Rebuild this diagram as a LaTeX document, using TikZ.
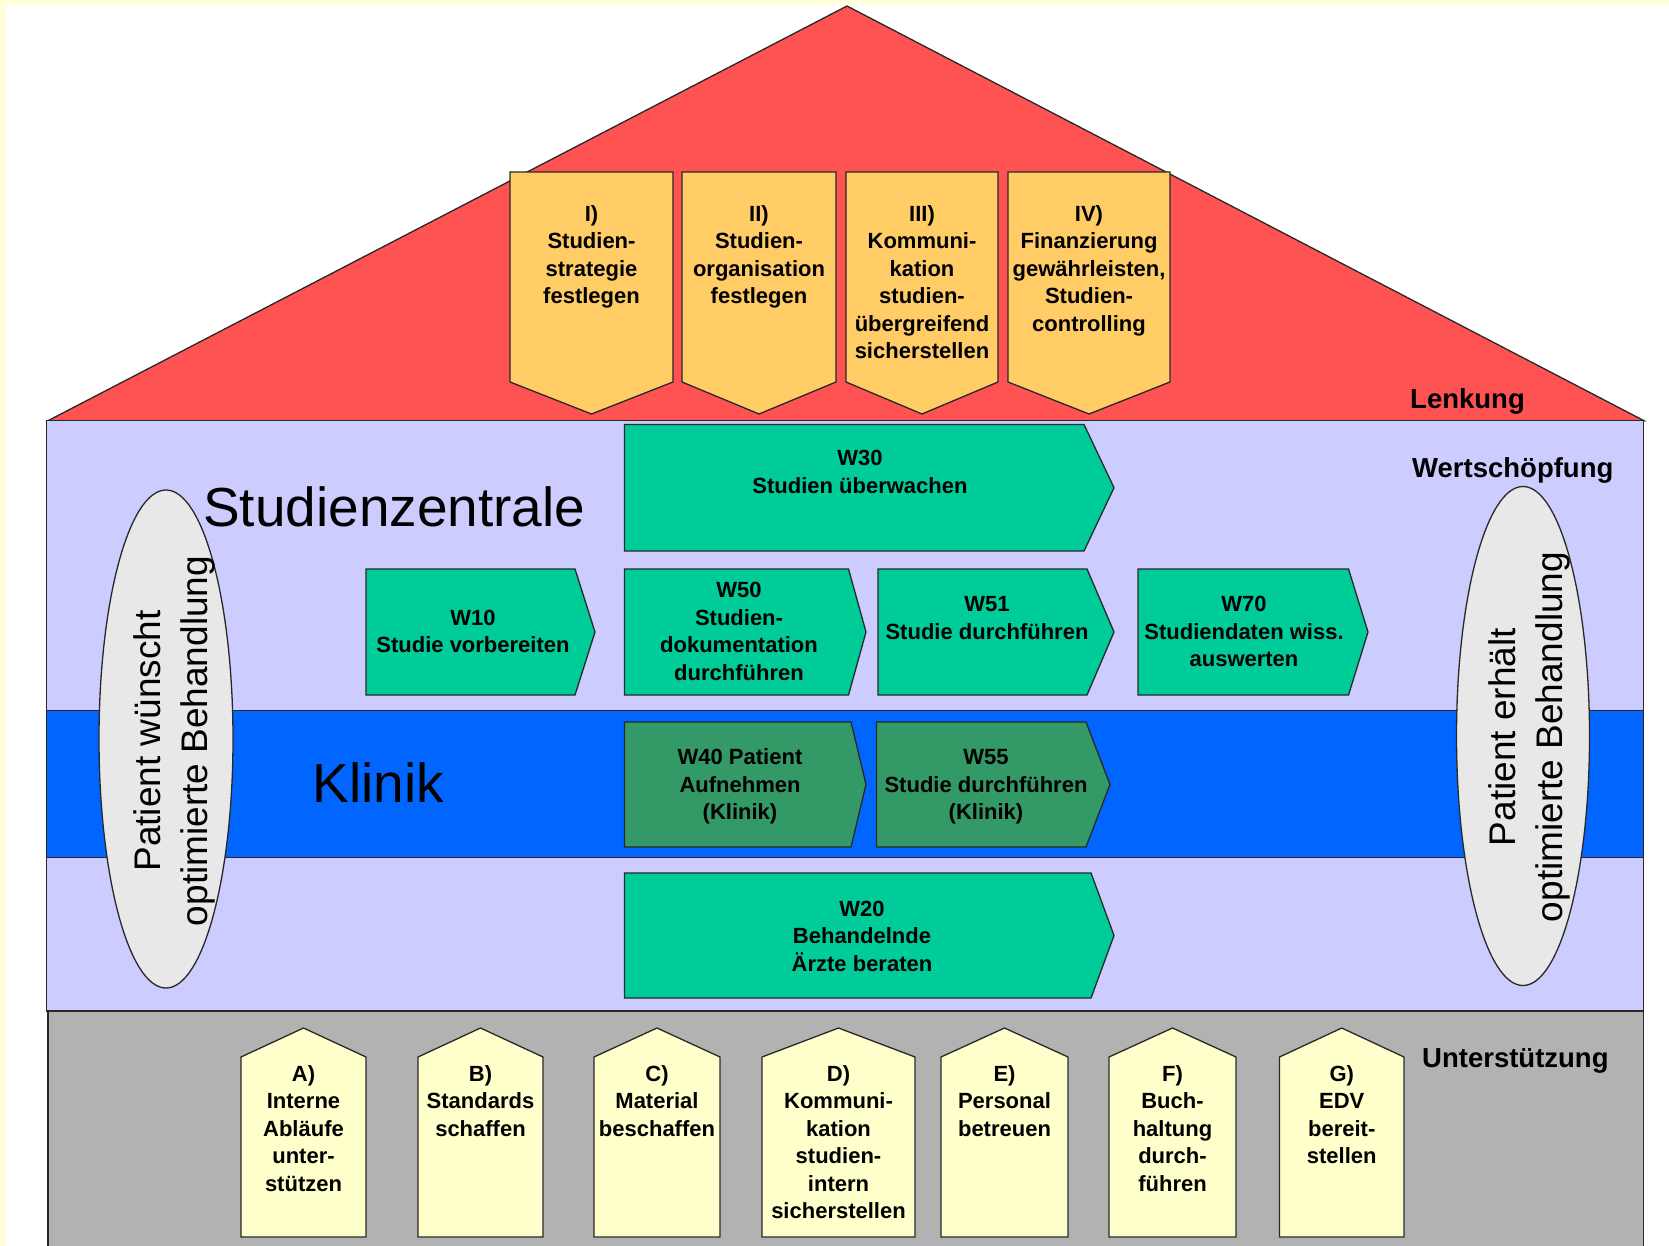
\documentclass[tikz,border=0pt]{standalone}
\usepackage{fontspec}
\setmainfont{Liberation Sans}
\definecolor{roofred}{RGB}{255,82,82}
\definecolor{topbox}{RGB}{255,204,102}
\definecolor{lav}{RGB}{204,204,255}
\definecolor{bandblue}{RGB}{0,102,255}
\definecolor{wgreen}{RGB}{0,204,153}
\definecolor{kgreen}{RGB}{51,153,102}
\definecolor{ellgrey}{RGB}{232,232,232}
\definecolor{basegrey}{RGB}{178,178,178}
\definecolor{botbox}{RGB}{255,255,204}
\definecolor{bgyellow}{RGB}{255,255,220}
\definecolor{edgecol}{RGB}{40,40,40}
\newcommand\hsBoxFont{\fontsize{22}{27.5}\selectfont\bfseries}
\newcommand\hsLabFont{\fontsize{27.5}{32}\selectfont\bfseries}
\newcommand\hsBigFont{\fontsize{55}{60}\selectfont}
\newcommand\hsEllFont{\fontsize{37}{47}\selectfont}
\tikzset{
  boxline/.style={draw=edgecol, line width=1.3pt, line join=miter},
  boxtext/.style={align=center, inner sep=0pt, font=\hsBoxFont, anchor=north},
  lab/.style={anchor=base west, inner sep=0pt, font=\hsLabFont},
  biglab/.style={anchor=base west, inner sep=0pt, font=\hsBigFont},
  elltext/.style={rotate=90, align=center, inner sep=0pt, font=\hsEllFont}
}
% down-pointing roof box: xl, xr
\newcommand\hsDownBox[2]{\draw[boxline,fill=topbox] (#1,172) -- (#2,172) -- (#2,382) -- ({(#1+#2)/2},414) -- (#1,382) -- cycle;}
% up-pointing support box: xl, xr
\newcommand\hsUpBox[2]{\draw[boxline,fill=botbox] (#1,1237) -- (#1,1057) -- ({(#1+#2)/2},1028) -- (#2,1057) -- (#2,1237) -- cycle;}
% value chain arrow: colour, xl, xr, tip, top, bottom
\newcommand\hsWBox[6]{\draw[boxline,fill=#1] (#2,#5) -- (#3,#5) -- (#4,{(#5+#6)/2}) -- (#3,#6) -- (#2,#6) -- cycle;}
\begin{document}
\begin{tikzpicture}[x=1pt,y=-1pt]
\useasboundingbox (0,0) rectangle (1669,1246);
\fill[bgyellow] (0,0) rectangle (1669,1246);
\fill[white] (6,5) rectangle (1669,1246);
% roof
\draw[boxline,fill=roofred] (48,420.7) -- (847,6) -- (1644,420.7) -- cycle;
\hsDownBox{510}{673}
\hsDownBox{682}{836}
\hsDownBox{846}{998}
\hsDownBox{1008}{1170}
\node[boxtext] (tI) at (591.5,201.6) {\strut I)\\Studien-\\strategie\\festlegen};
\node[boxtext] (tII) at (759,201.6) {\strut II)\\Studien-\\organisation\\festlegen};
\node[boxtext] (tIII) at (922,201.6) {\strut III)\\Kommuni-\\kation\\studien-\\übergreifend\\sicherstellen};
\node[boxtext] (tIV) at (1089,201.6) {\strut IV)\\Finanzierung\\gewährleisten,\\Studien-\\controlling};
% body
\draw[boxline,fill=lav] (46.7,420.7) rectangle (1643.5,1011);
\draw[boxline,fill=bandblue] (46.7,710.4) rectangle (1643.5,857.5);
\fill[basegrey] (48,1011) rectangle (1643.5,1246);
\draw[boxline] (48,1246) -- (48,1011) -- (1643.5,1011) -- (1643.5,1246);
% value chain
\hsWBox{wgreen}{624.5}{1084}{1114}{424.5}{551}
\hsWBox{wgreen}{366}{575}{595}{569}{695}
\hsWBox{wgreen}{624.5}{848.5}{866}{569}{695}
\hsWBox{wgreen}{878}{1087}{1114}{569}{695}
\hsWBox{wgreen}{1138}{1348.5}{1368}{569}{695}
\hsWBox{kgreen}{624.5}{851}{866}{722}{847}
\hsWBox{kgreen}{876.5}{1086}{1110}{722}{847}
\hsWBox{wgreen}{624.5}{1091}{1114}{873}{998}
\node[boxtext] (w30) at (860,446.4) {\strut W30\\Studien überwachen};
\node[boxtext] (w10) at (473,606) {\strut W10\\Studie vorbereiten};
\node[boxtext] (w50) at (739,578.4) {\strut W50\\Studien-\\dokumentation\\durchführen};
\node[boxtext] (w51) at (987,592.2) {\strut W51\\Studie durchführen};
\node[boxtext] (w70) at (1244,592.2) {\strut W70\\Studiendaten wiss.\\auswerten};
\node[boxtext] (w40) at (740,745.5) {\strut W40 Patient\\Aufnehmen\\(Klinik)};
\node[boxtext] (w55) at (986,745.5) {\strut W55\\Studie durchführen\\(Klinik)};
\node[boxtext] (w20) at (862,896.7) {\strut W20\\Behandelnde\\Ärzte beraten};
% ellipses
\draw[boxline,fill=ellgrey] (166,739) ellipse [x radius=67pt, y radius=249pt];
\draw[boxline,fill=ellgrey] (1523,736) ellipse [x radius=66.5pt, y radius=249.5pt];
\node[elltext] (eL) at (174,741) {Patient wünscht\\optimierte Behandlung};
\node[elltext] (eR) at (1529,737) {Patient erhält\\optimierte Behandlung};
% big labels
\node[biglab] (sz) at (203,526.5) {Studienzentrale};
\node[biglab] (kl) at (312.5,802) {Klinik};
\node[lab] (lenk) at (1410,408) {Lenkung};
\node[lab] (wert) at (1412,477) {Wertschöpfung};
\node[lab] (unt) at (1422,1067.7) {Unterstützung};
% support boxes
\hsUpBox{241}{366}
\hsUpBox{418}{543}
\hsUpBox{594}{720}
\hsUpBox{762}{915}
\hsUpBox{941}{1068}
\hsUpBox{1109}{1236}
\hsUpBox{1279.5}{1404}
\node[boxtext] (bA) at (303.5,1061.6) {\strut A)\\Interne\\Abläufe\\unter-\\stützen};
\node[boxtext] (bB) at (480.5,1061.6) {\strut B)\\Standards\\schaffen};
\node[boxtext] (bC) at (657,1061.6) {\strut C)\\Material\\beschaffen};
\node[boxtext] (bD) at (838.5,1061.6) {\strut D)\\Kommuni-\\kation\\studien-\\intern\\sicherstellen};
\node[boxtext] (bE) at (1004.5,1061.6) {\strut E)\\Personal\\betreuen};
\node[boxtext] (bF) at (1172.5,1061.6) {\strut F)\\Buch-\\haltung\\durch-\\führen};
\node[boxtext] (bG) at (1341.7,1061.6) {\strut G)\\EDV\\bereit-\\stellen};
\end{tikzpicture}
\end{document}
